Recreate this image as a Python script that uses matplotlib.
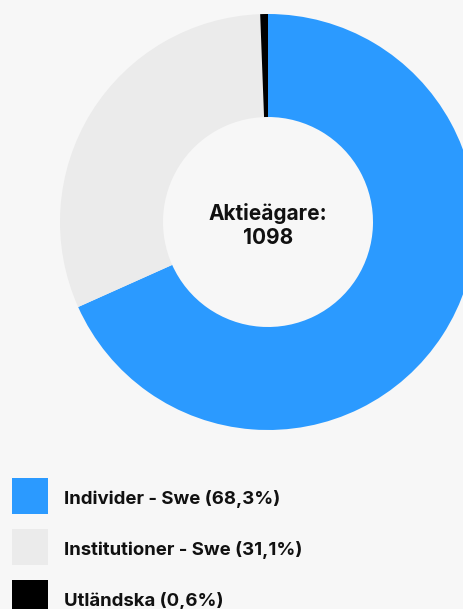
"""Donut chart of shareholder distribution."""

import matplotlib.pyplot as plt
from matplotlib.patches import Rectangle

plt.rcParams["font.family"] = ["Inter", "DejaVu Sans"]

labels = ["Individer - Swe", "Institutioner - Swe", "Utländska"]
shares = [68.3, 31.1, 0.6]
colors = ["#2b9aff", "#ebebeb", "#000000"]
total_holders = 1098

W, H = 464, 609
BG = "#f7f7f7"

fig = plt.figure(figsize=(W / 100, H / 100), dpi=100, facecolor=BG)
ax = fig.add_axes([0, 0, 1, 1])
ax.set_facecolor(BG)

# pie in pixel coordinates (y up)
cx, cy = 268, H - 222
ax.pie(shares, colors=colors, startangle=90, counterclock=False,
       center=(cx, cy), radius=208,
       wedgeprops=dict(width=103, linewidth=0))
ax.set_xlim(0, W)
ax.set_ylim(0, H)
ax.set_aspect("equal")
ax.axis("off")

ax.text(cx, cy - 3, f"Aktieägare:\n{total_holders}", ha="center", va="center",
        fontsize=15, fontweight="bold", color="#111111", linespacing=1.25)

# legend
for i, (label, share, color) in enumerate(zip(labels, shares, colors)):
    y_top = 478 + i * 51
    ax.add_patch(Rectangle((12, H - y_top - 36), 36, 36, color=color, lw=0))
    ax.text(64, H - y_top - 21, f"{label} ({share:.1f}%)".replace(".", ","),
            ha="left", va="center", fontsize=13.4, fontweight="bold",
            color="#111111")

fig.savefig("out.png", dpi=100, facecolor=BG)
